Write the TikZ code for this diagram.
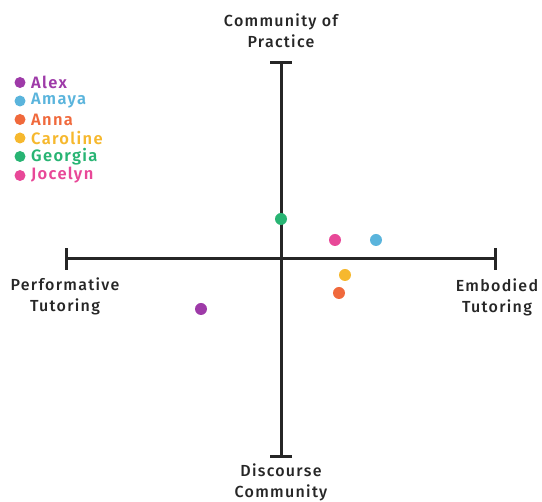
\documentclass[tikz,border=0pt]{standalone}
\usepackage{fontspec}
\setmainfont{Fira Sans}[LetterSpace=8]
\newfontfamily\labelfont{Fira Sans Medium}[LetterSpace=8]
\newfontfamily\keyfont{Fira Sans SemiBold}[LetterSpace=8]
\usepackage{xcolor}
\definecolor{alexpurple}{RGB}{158,58,168}
\definecolor{amayablue}{RGB}{90,180,220}
\definecolor{annaorange}{RGB}{240,105,60}
\definecolor{carolineyellow}{RGB}{246,184,46}
\definecolor{georgiagreen}{RGB}{40,180,115}
\definecolor{jocelynpink}{RGB}{232,72,152}
\definecolor{axisgray}{gray}{0.15}
\usetikzlibrary{arrows.meta}

\begin{document}
\begin{tikzpicture}[x=1pt,y=-1pt]
%\draw [help lines] (0,0) grid (542,502);
\tikzset{
	axisline/.style={
		line width=3pt,
		draw=axisgray,
		{Bar[width=22pt]}-{Bar[width=22pt]}
	},
	axislabel/.style={
		align=center,
		inner sep=0pt,
		text=axisgray,
		font=\labelfont\fontsize{16}{21}\selectfont
	},
	dot/.style={
		circle,
		inner sep=0pt,
		minimum size=12pt
	},
	keydot/.style={
		circle,
		inner sep=0pt,
		minimum size=11pt
	},
	keytext/.style={
		anchor=west,
		inner sep=0pt,
		font=\keyfont\fontsize{16.5}{16.5}\selectfont
	},
}
\useasboundingbox (0,0) rectangle (542,502);

% axes
\coordinate (top) at (281,61);
\coordinate (bottom) at (281,458);
\coordinate (left) at (65,259);
\coordinate (right) at (497,259);
\draw [axisline] (top) -- (bottom);
\draw [axisline] (left) -- (right);

\node (cop) [axislabel] at (281,31) {Community of\\ Practice};
\node (dc) [axislabel] at (281,482) {Discourse\\ Community};
\node (pt) [axislabel] at (65,296.5) {Performative\\ Tutoring};
\node (et) [axislabel] at (497,297) {Embodied\\ Tutoring};

% tutors
\node (georgia) [dot, fill=georgiagreen] at (281,219) {};
\node (jocelyn) [dot, fill=jocelynpink] at (335,240) {};
\node (amaya) [dot, fill=amayablue] at (376,240) {};
\node (caroline) [dot, fill=carolineyellow] at (345,275) {};
\node (anna) [dot, fill=annaorange] at (339,293) {};
\node (alex) [dot, fill=alexpurple] at (201,309) {};

% key
\node (k1) [keydot, fill=alexpurple] at (20,82.5) {};
\node (k2) [keydot, fill=amayablue] at (20,101) {};
\node (k3) [keydot, fill=annaorange] at (20,119.5) {};
\node (k4) [keydot, fill=carolineyellow] at (20,138) {};
\node (k5) [keydot, fill=georgiagreen] at (20,156.5) {};
\node (k6) [keydot, fill=jocelynpink] at (20,175.5) {};
\node [keytext, text=alexpurple] at (31,82.5) {Alex};
\node [keytext, text=amayablue] at (31,101) {Amaya};
\node [keytext, text=annaorange] at (31,119.5) {Anna};
\node [keytext, text=carolineyellow] at (31,138) {Caroline};
\node [keytext, text=georgiagreen] at (31,156.5) {Georgia};
\node [keytext, text=jocelynpink] at (31,175.5) {Jocelyn};
\end{tikzpicture}
\end{document}
